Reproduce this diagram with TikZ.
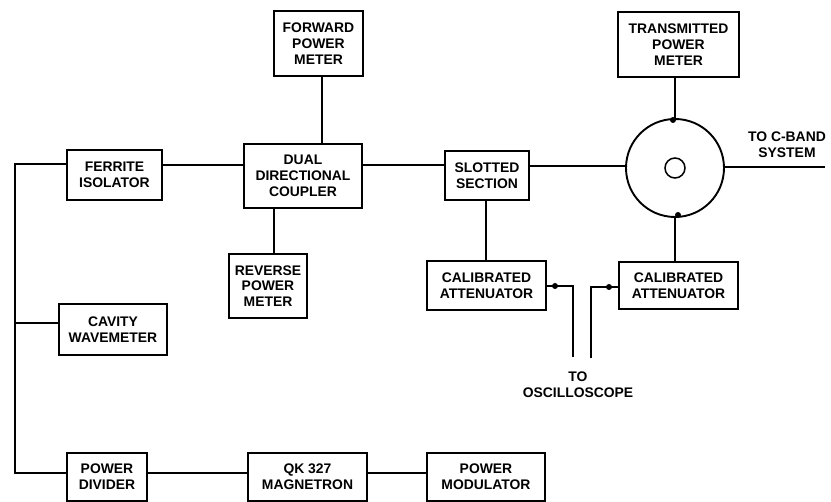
\documentclass[tikz,border=0pt]{standalone}
\usepackage{fontspec}
\setmainfont{Liberation Sans}
\tikzset{
 blk/.style={draw=black,line width=1.7pt,fill=white,align=center,inner sep=0pt,font=\fontsize{13.9}{15.8}\selectfont\bfseries},
 wire/.style={line width=1.2pt,black},
 lbl/.style={align=center,inner sep=0pt,font=\fontsize{13.9}{15.8}\selectfont\bfseries},
 tick/.style={circle,fill=black,inner sep=0pt,minimum size=6pt}
}
\newcommand{\bx}[6]{\node[blk,minimum width={#4-#2},minimum height={#5-#3}] (#1) at ({(#2+#4)/2},{-(#3+#5)/2}) {#6};}
\begin{document}
\begin{tikzpicture}[x=1pt,y=1pt]
\useasboundingbox (0,0) rectangle (831,-502);
\bx{fpm}{274}{11}{363}{76}{FORWARD\\POWER\\METER}
\bx{tpm}{618}{12}{739}{77}{TRANSMITTED\\POWER\\METER}
\bx{fi}{67}{150}{162}{200}{FERRITE\\ISOLATOR}
\bx{ddc}{244}{144}{362}{208}{DUAL\\DIRECTIONAL\\COUPLER}
\bx{ss}{445}{151}{529}{200}{SLOTTED\\SECTION}
\bx{rpm}{229}{254}{307}{318}{REVERSE\\POWER\\METER}
\bx{ca1}{427}{261}{546}{310}{CALIBRATED\\ATTENUATOR}
\bx{ca2}{619}{262}{738}{309}{CALIBRATED\\ATTENUATOR}
\bx{cw}{59}{304}{167}{355}{CAVITY\\WAVEMETER}
\bx{pd}{67}{453}{147}{501}{POWER\\DIVIDER}
\bx{mag}{248}{453}{367}{501}{QK 327\\MAGNETRON}
\bx{pm}{427}{453}{545}{501}{POWER\\MODULATOR}
\node[circle,draw=black,line width=1.9pt,minimum size=98pt,inner sep=0pt] (circ) at (675,-168) {};
\node[circle,draw=black,line width=1.5pt,minimum size=20pt,inner sep=0pt] (inner) at (675,-168) {};
\node[tick] (t1) at (673,-120) {};
\node[tick] (t2) at (678,-215) {};
\node[tick] (t3) at (555,-286) {};
\node[tick] (t4) at (609,-287) {};
\node[lbl] (csys) at (787,-145) {TO C-BAND\\SYSTEM};
\node[lbl] (osc) at (578,-385) {TO\\OSCILLOSCOPE};
\coordinate (tA) at (15,-164);
\coordinate (tB) at (15,-323);
\coordinate (tC) at (15,-473);
\coordinate (out) at (825,-167);
\coordinate (c1) at (573,-286);
\coordinate (e1) at (573,-357);
\coordinate (c2) at (591,-287);
\coordinate (e2) at (591,-358);
\draw[wire] (fi.west |- tA) -- (tA) -- (tC) -- (pd.west |- tC);
\draw[wire] (tB) -- (cw.west |- tB);
\draw[wire] (fi.east |- 0,-165) -- (ddc.west |- 0,-165);
\draw[wire] (ddc.east |- 0,-165) -- (ss.west |- 0,-165);
\draw[wire] (ss.east |- 0,-166) -- (circ.west |- 0,-166);
\draw[wire] (circ.east |- out) -- (out);
\draw[wire] (fpm.south -| 322,0) -- (ddc.north -| 322,0);
\draw[wire] (ddc.south -| 274,0) -- (rpm.north -| 274,0);
\draw[wire] (tpm.south -| 675,0) -- (circ.north -| 675,0);
\draw[wire] (circ.south -| 675,0) -- (ca2.north -| 675,0);
\draw[wire] (ss.south -| 486,0) -- (ca1.north -| 486,0);
\draw[wire] (ca1.east |- c1) -- (c1) -- (e1);
\draw[wire] (ca2.west |- c2) -- (c2) -- (e2);
\draw[wire] (pd.east |- 0,-473) -- (mag.west |- 0,-473);
\draw[wire] (mag.east |- 0,-473) -- (pm.west |- 0,-473);
\end{tikzpicture}
\end{document}
